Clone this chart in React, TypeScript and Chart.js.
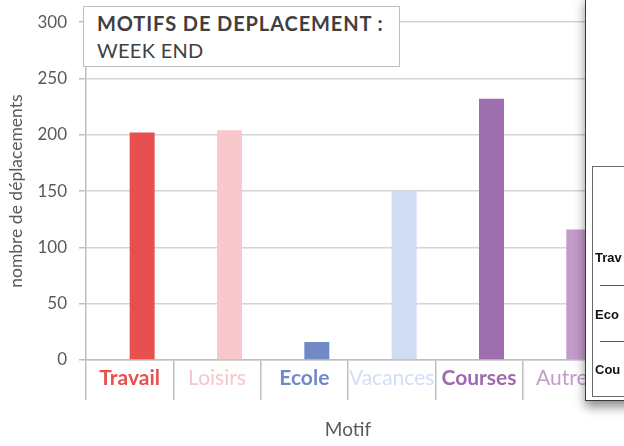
import React, { useEffect, useRef } from "react";
import { Chart, registerables } from "chart.js";

Chart.register(...registerables);

const categories = ["Travail", "Loisirs", "Ecole", "Vacances", "Courses", "Autres"];
const values = [202, 204, 16, 150, 232, 116];
const emptyValues = [null, null, null, null, null, null];
const barColors = ["#E8504F", "#F8C8CD", "#6F8AC6", "#D0DCF2", "#9E6FAF", "#C49ACB"];
const labelColors = ["#E8504F", "#F7C6CC", "#6F8AC6", "#D3DEF3", "#9E6BB0", "#C49ACB"];
const labelBold = [true, false, true, false, true, false];
const yMin = 0;
const yMax = 300;
const yStep = 50;
const titleLine1 = "MOTIFS DE DEPLACEMENT :";
const titleLine2 = "WEEK END";
const yTitle = "nombre de déplacements";
const xTitle = "Motif";
const popupRows = ["Trav", "Eco", "Cou"];

export default function App() {
  const ref = useRef<HTMLCanvasElement | null>(null);

  useEffect(() => {
    document.body.style.margin = "0";
    const canvas = ref.current;
    if (!canvas) return;
    const chart = new Chart(canvas, {
      type: "bar",
      data: {
        labels: categories,
        datasets: [
          {
            label: "",
            data: emptyValues,
            backgroundColor: barColors,
            borderWidth: 0,
          },
          {
            label: "Motif",
            data: values,
            backgroundColor: barColors,
            borderWidth: 0,
          },
        ],
      },
      options: {
        responsive: false,
        animation: false,
        layout: { padding: { top: 22, right: 14, left: 0, bottom: 0 } },
        datasets: {
          bar: { categoryPercentage: 0.572, barPercentage: 1 },
        },
        plugins: {
          legend: { display: false },
          tooltip: { enabled: false },
          title: { display: false },
        },
        scales: {
          x: {
            grid: {
              display: true,
              drawOnChartArea: false,
              drawTicks: true,
              tickLength: 40,
              color: "#bfbfbf",
              lineWidth: 1.5,
              offset: true,
            },
            border: { color: "#bfbfbf", width: 1.5 },
            ticks: {
              padding: -34,
              color: (ctx: any) => labelColors[ctx.index],
              font: (ctx: any) => ({
                family: "Lato",
                size: 21,
                weight: labelBold[ctx.index] ? "bold" : "normal",
              }),
              maxRotation: 0,
              autoSkip: false,
            },
            title: {
              display: true,
              text: xTitle,
              color: "#595959",
              font: { family: "Lato", size: 19 },
              padding: { top: 0, bottom: 5 },
            },
            afterFit: (scale: any) => {
              scale.height = 86;
            },
          },
          y: {
            min: yMin,
            max: yMax,
            ticks: {
              stepSize: yStep,
              padding: 12,
              color: "#595959",
              font: { family: "Lato", size: 17 },
            },
            grid: {
              color: "#d4d4d4",
              lineWidth: 1.5,
              tickLength: 7,
              tickColor: "#bfbfbf",
            },
            border: { color: "#bfbfbf", width: 1.5 },
            title: {
              display: true,
              text: yTitle,
              color: "#595959",
              font: { family: "Lato", size: 17.5 },
              padding: { top: 6, bottom: 0 },
            },
            afterFit: (scale: any) => {
              scale.width = 86;
            },
          },
        },
      },
    });
    return () => chart.destroy();
  }, []);

  return (
    <div style={{ position: "absolute", left: 0, top: 0, width: 624, height: 446, overflow: "hidden", background: "#fff" }}>
      <canvas ref={ref} width={624} height={446} style={{ position: "absolute", left: 0, top: 0 }} />
      <div
        style={{
          position: "absolute",
          left: 83,
          top: 6,
          width: 317,
          height: 61,
          boxSizing: "border-box",
          border: "1px solid #bfbfbf",
          background: "#fff",
          paddingLeft: 13,
          paddingTop: 3,
          fontFamily: "Lato",
          fontSize: 20,
          lineHeight: "27px",
          color: "#404040",
          whiteSpace: "nowrap",
        }}
      >
        <div style={{ fontWeight: "bold", letterSpacing: "0.9px" }}>{titleLine1}</div>
        <div style={{ letterSpacing: "0.3px" }}>{titleLine2}</div>
      </div>
      <div
        style={{
          position: "absolute",
          left: 585,
          top: -5,
          width: 100,
          height: 406,
          boxSizing: "border-box",
          border: "1.5px solid #3a3a3a",
          background: "#fff",
          boxShadow: "0 6px 10px rgba(0,0,0,0.45)",
        }}
      />
      <div
        style={{
          position: "absolute",
          left: 592,
          top: 166,
          width: 60,
          height: 231,
          boxSizing: "border-box",
          border: "1px solid #6a6a6a",
        }}
      />
      {popupRows.map((t, i) => (
        <div
          key={t}
          style={{
            position: "absolute",
            left: 595,
            top: [250, 307, 362][i],
            fontFamily: "Liberation Sans",
            fontWeight: "bold",
            fontSize: 13,
            lineHeight: "15px",
            color: "#111",
          }}
        >
          {t}
        </div>
      ))}
      {[285, 341].map((y) => (
        <div key={y} style={{ position: "absolute", left: 600, top: y, width: 40, height: 1, background: "#555" }} />
      ))}
    </div>
  );
}
